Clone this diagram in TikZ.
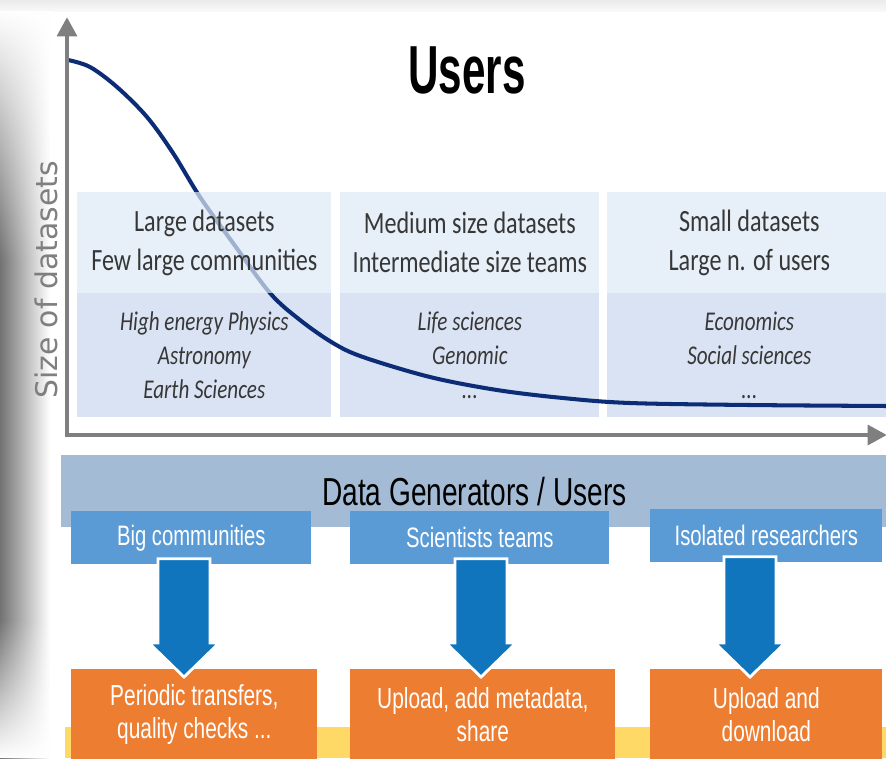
\documentclass[tikz,border=0pt]{standalone}
\usepackage{fontspec}
\usetikzlibrary{calc,arrows.meta,fadings}

% --- Font ---
\newfontfamily\calfont[FakeStretch=0.78]{Carlito}
\newfontfamily\slidefont[FakeStretch=0.72]{Liberation Sans}
\newfontfamily\titlefont[FakeStretch=0.62]{Liberation Sans}
\newfontfamily\axisfont{DejaVu Sans}

% --- Colori ---
\definecolor{axisgray}{RGB}{127,127,127}
\definecolor{curvenavy}{RGB}{12,45,118}
\definecolor{textgray}{RGB}{55,55,55}
\definecolor{boxup}{RGB}{222,234,246}
\definecolor{boxlow}{RGB}{218,227,243}
\definecolor{bandblue}{RGB}{163,187,213}
\definecolor{hdrblue}{RGB}{91,155,213}
\definecolor{arrowblue}{RGB}{17,117,189}
\definecolor{taskorange}{RGB}{237,125,49}
\definecolor{stripyellow}{RGB}{255,217,102}

\newcommand{\pxl}{0.2mm}

% sfumature per schiarire l'ombra in alto e in basso
\tikzfading[name=fadetop, top color=transparent!0, bottom color=transparent!100]
\tikzfading[name=fadebottom, top color=transparent!100, bottom color=transparent!0]

\tikzset{
  upbox/.style={anchor=north west, inner sep=0pt, fill=boxup, fill opacity=0.7, text opacity=1,
    text=textgray, align=center, minimum height=101*\pxl,
    font=\calfont\fontsize{17.6}{22.2}\selectfont},
  lowbox/.style={anchor=north west, inner sep=0pt, fill=boxlow, text=textgray, align=center,
    minimum height=124*\pxl, font=\calfont\itshape\fontsize{15.4}{19.4}\selectfont},
  hdrbox/.style={anchor=north west, inner sep=0pt, fill=hdrblue, text=white,
    minimum height=53*\pxl, font=\slidefont\fontsize{16}{19}\selectfont},
  taskbox/.style={anchor=north west, inner sep=0pt, fill=taskorange, text=white, align=center,
    minimum height=91*\pxl, font=\slidefont\fontsize{16.5}{18.8}\selectfont},
  fatarrow/.style={fill=arrowblue, draw=white, line width=1.6pt, line join=miter},
  axis/.style={draw=axisgray, line width=2.8pt, line join=miter,
    {Triangle[length=11pt,width=11pt]}-{Triangle[length=11pt,width=11pt]}},
  curva/.style={draw=curvenavy, line width=2.3pt}
}

% freccia larga dal riquadro #1 al riquadro #2, sull'asse verticale #3
\newcommand{\fatarrow}[3]{%
  \filldraw[fatarrow] ($(#1.south -| #3)+(-26,-6)$) -- ($(#1.south -| #3)+(26,-6)$)
    -- ($(#2.north -| #3)+(26,-26)$) -- ($(#2.north -| #3)+(35,-26)$)
    -- ($(#2.north -| #3)+(0,8)$) -- ($(#2.north -| #3)+(-35,-26)$)
    -- ($(#2.north -| #3)+(-26,-26)$) -- cycle;}

\begin{document}
\begin{tikzpicture}[x=0.2mm, y=-0.2mm]

    \useasboundingbox (0,0) rectangle (886,758);
    \fill[white] (0,0) rectangle (886,758);

    % --- Ombra della slide ---
    \shade[top color=gray!16, bottom color=gray!5] (0,0) rectangle (886,11);
    \shade[left color=black!55, right color=white] (0,11) rectangle (50,758);
    \fill[white, path fading=fadetop] (0,11) rectangle (52,260);
    \fill[white, path fading=fadebottom] (0,620) rectangle (52,758);

    % --- Titolo ---
    \node[font=\titlefont\bfseries\fontsize{38.7}{40}\selectfont] (title) at (467,70) {Users};

    % ==========================================
    % 1. GRAFICO: riquadri, curva, assi
    % ==========================================

    % --- Parte bassa dei riquadri (discipline) ---
    \node[lowbox, minimum width=254*\pxl] (physics) at (77,293)
        {High energy Physics\\Astronomy\\Earth Sciences};
    \node[lowbox, minimum width=259*\pxl] (life) at (340,293)
        {Life sciences\\Genomic\\...};
    \node[lowbox, minimum width=284*\pxl] (econ) at (607,293)
        {Economics\\Social sciences\\...};

    % --- Curva della dimensione dei dataset ---
    \draw[curva] plot[smooth, tension=0.55] coordinates {
        (68,60) (90,67) (117,87) (147,117) (173,153) (200,197) (233,243)
        (270,293) (300,320) (333,343) (363,357) (430,377) (497,390)
        (563,398) (630,403) (750,405) (890,406)};

    % --- Parte alta dei riquadri (semitrasparente sopra la curva) ---
    \node[upbox, minimum width=254*\pxl] (large) at (77,192)
        {Large datasets\\Few large communities};
    \node[upbox, minimum width=259*\pxl] (medium) at (340,192)
        {Medium size datasets\\Intermediate size teams};
    \node[upbox, minimum width=284*\pxl] (small) at (607,192)
        {Small datasets\\Large n. of users};

    % --- Assi ---
    \draw[axis] (67,17) -- (67,435) -- (887,435);
    \node[rotate=90, text=axisgray, font=\axisfont\fontsize{17}{20}\selectfont] (ylabel) at (46,280)
        {Size of datasets};

    % ==========================================
    % 2. GENERATORI DI DATI E ATTIVITA'
    % ==========================================

    % --- Striscia gialla di fondo ---
    \fill[stripyellow] (65,727) rectangle (886,758);

    % --- Fascia Data Generators ---
    \node[anchor=north west, inner sep=0pt, fill=bandblue, minimum width=826*\pxl, minimum height=72*\pxl,
        font=\slidefont\fontsize{22.2}{24}\selectfont] (gens) at (61,455) {Data Generators / Users};

    % --- Gruppi di utenti ---
    \node[hdrbox, minimum width=240*\pxl] (big) at (71,511) {Big communities};
    \node[hdrbox, minimum width=259*\pxl] (sci) at (350,511) {Scientists teams};
    \node[hdrbox, minimum width=232*\pxl] (iso) at (650,509) {Isolated researchers};

    % --- Attivita' ---
    \node[taskbox, minimum width=246*\pxl] (periodic) at (71,669) {Periodic transfers,\\quality checks ...};
    \node[taskbox, minimum width=265*\pxl] (upmeta) at (350,669) {Upload, add metadata,\\share};
    \node[taskbox, minimum width=232*\pxl] (updown) at (650,669) {Upload and\\download};

    % --- Frecce ---
    \coordinate (ax1) at (184,0);
    \coordinate (ax2) at (481,0);
    \coordinate (ax3) at (750,0);
    \fatarrow{big}{periodic}{ax1}
    \fatarrow{sci}{upmeta}{ax2}
    \fatarrow{iso}{updown}{ax3}

\end{tikzpicture}
\end{document}
